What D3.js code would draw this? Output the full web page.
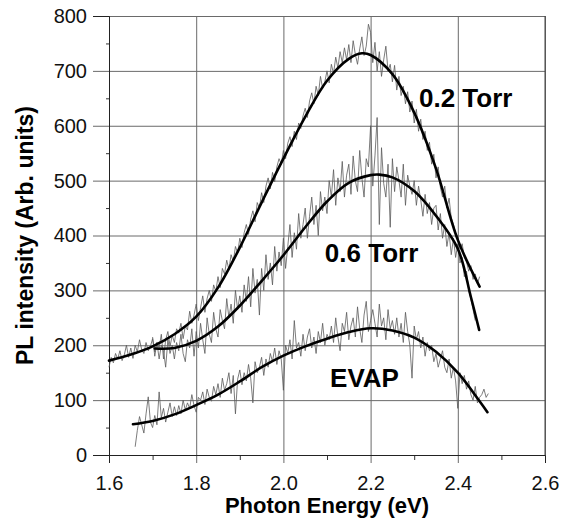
<!DOCTYPE html>
<html>
<head>
<meta charset="utf-8">
<script src="https://cdn.jsdelivr.net/npm/d3@7"></script>
<style>
  html, body { margin: 0; padding: 0; background: #fff; }
  svg { display: block; font-family: "Liberation Sans", Arial, sans-serif; }
</style>
</head>
<body>
<svg id="chart" width="566" height="521"></svg>
<script>
// ---------- DATA ----------
const xTicks = [1.6, 1.8, 2.0, 2.2, 2.4, 2.6];
const xTickLabels = ["1.6", "1.8", "2.0", "2.2", "2.4", "2.6"];
const xMinorTicks = [1.7, 1.9, 2.1, 2.3, 2.5];
const yTicks = [0, 100, 200, 300, 400, 500, 600, 700, 800];
const yMinorTicks = [50, 150, 250, 350, 450, 550, 650, 750];

const xTitle = "Photon Energy (eV)";
const yTitle = "PL intensity (Arb. units)";

// Fitted curves (energy in eV, intensity)
const fit02E = [1.60, 1.65, 1.70, 1.75, 1.80, 1.85, 1.90, 1.95, 2.00, 2.05, 2.10, 2.15, 2.18, 2.20, 2.25, 2.30, 2.35, 2.40, 2.45];
const fit02I = [172, 183, 198, 220, 252, 305, 378, 460, 540, 616, 682, 722, 732, 729, 694, 624, 522, 392, 307];

const fit06E = [1.705, 1.75, 1.80, 1.85, 1.90, 1.95, 2.00, 2.05, 2.10, 2.15, 2.20, 2.22, 2.25, 2.30, 2.35, 2.40, 2.43, 2.449];
const fit06I = [194, 195, 208, 234, 272, 317, 364, 415, 462, 496, 510, 511, 506, 481, 436, 376, 288, 228];

const fitEvapE = [1.655, 1.70, 1.75, 1.80, 1.85, 1.90, 1.95, 2.00, 2.05, 2.10, 2.15, 2.20, 2.25, 2.30, 2.35, 2.40, 2.45, 2.468];
const fitEvapI = [56, 62, 74, 91, 110, 134, 160, 181, 198, 212, 224, 231, 227, 214, 188, 150, 98, 78];

// Measured (noisy) spectra, sampled every 0.005 eV from their start energy
const sampleStep = 0.005;
const raw02Start = 1.60;
const raw02 = [
  160,178,168,185,175,190,172,182,200,178,
  195,176,200,188,210,192,185,205,190,198,
  212,188,205,195,220,175,210,225,198,218,
  205,230,222,240,212,235,228,262,240,255,
  275,245,268,290,260,285,300,280,310,298,
  325,305,340,330,355,338,365,352,380,368,
  395,378,405,420,402,430,445,425,460,450,
  478,460,490,505,485,515,498,525,540,530,
  555,540,568,580,562,590,575,605,595,618,
  632,615,645,660,640,672,655,690,668,680,
  700,678,712,695,725,705,735,715,742,720,
  748,715,755,730,712,740,762,728,745,785,
  770,715,752,700,735,690,720,745,700,712,
  680,710,665,690,655,672,640,662,625,645,
  605,630,590,612,575,590,555,570,530,548,
  505,525,488,470,490,450,468,432,420,405,
  398,375,385,360,352,335,345,320,330,312,
  325
];

const raw06Start = 1.70;
const raw06 = [
  215,180,205,175,200,190,160,210,185,200,
  175,205,190,220,185,170,210,195,230,180,
  225,195,240,210,185,250,220,205,260,230,
  215,265,245,230,285,250,275,240,300,265,
  290,260,310,280,325,270,340,295,320,255,
  340,300,365,320,350,310,380,335,370,345,
  395,340,380,420,360,405,375,440,395,420,
  450,395,435,470,420,455,400,480,445,470,
  440,500,470,520,455,505,480,535,470,510,
  530,475,545,500,480,555,505,470,540,525,
  600,490,545,615,420,560,495,470,530,415,
  540,480,525,500,470,530,455,510,490,475,
  500,455,490,465,435,475,440,460,420,450,
  455,410,440,395,420,380,405,365,395,360,
  385,350,360,325,335,300,285,265,245
];

const rawEvapStart = 1.66;
const rawEvap = [
  15,45,70,55,40,75,106,60,50,72,
  55,115,68,85,60,78,95,70,88,72,
  90,75,100,82,95,85,110,90,78,105,
  100,115,92,120,105,98,125,110,130,105,
  140,118,130,150,112,145,75,138,155,128,
  150,135,165,140,95,170,150,160,178,145,
  175,160,185,170,195,165,190,175,118,200,
  185,210,175,245,195,205,180,220,190,215,
  230,195,215,185,225,205,240,200,220,210,
  235,205,250,215,190,240,225,260,210,235,
  250,215,270,230,205,255,280,225,245,265,
  240,215,275,235,250,210,265,230,245,220,
  250,215,240,205,260,225,200,140,235,210,
  225,195,215,180,205,190,200,170,185,160,
  175,190,160,150,175,140,160,135,85,150,
  130,145,120,135,110,100,125,95,105,110,
  120,105,112
];

// Curve labels (anchored at energy / intensity of text baseline start)
const labelTexts = ["0.2 Torr", "0.6 Torr", "EVAP"];
const labelE = [2.311, 2.095, 2.107];
const labelI = [634, 352, 124];

// ---------- DRAW ----------
const svg = d3.select("#chart");
const mLeft = 109, mRight = 545, mTop = 16, mBottom = 455;

const x = d3.scaleLinear().domain([1.6, 2.6]).range([mLeft, mRight]);
const y = d3.scaleLinear().domain([0, 800]).range([mBottom, mTop]);

const gridColor = "#6a6a6a";

// Horizontal gridlines (extend left of axis like ticks)
svg.append("g")
  .attr("transform", `translate(${mRight},0)`)
  .call(d3.axisLeft(y).tickValues(yTicks).tickSize(mRight - 93).tickFormat(""))
  .call(g => g.select(".domain").remove())
  .call(g => g.selectAll("line").attr("stroke", gridColor).attr("stroke-width", 1));

// Vertical gridlines (extend below axis)
svg.append("g")
  .attr("transform", `translate(0,${mTop})`)
  .call(d3.axisBottom(x).tickValues(xTicks).tickSize(463 - mTop).tickFormat(""))
  .call(g => g.select(".domain").remove())
  .call(g => g.selectAll("line").attr("stroke", gridColor).attr("stroke-width", 1));

// Minor ticks
svg.append("g")
  .attr("transform", `translate(${mLeft},0)`)
  .call(d3.axisLeft(y).tickValues(yMinorTicks).tickSize(3).tickFormat(""))
  .call(g => g.select(".domain").remove())
  .call(g => g.selectAll("line").attr("stroke", "#333"));
svg.append("g")
  .attr("transform", `translate(0,${mBottom})`)
  .call(d3.axisBottom(x).tickValues(xMinorTicks).tickSize(5).tickFormat(""))
  .call(g => g.select(".domain").remove())
  .call(g => g.selectAll("line").attr("stroke", "#333"));

// Y axis labels
svg.append("g")
  .attr("transform", `translate(${mLeft},0)`)
  .call(d3.axisLeft(y).tickValues(yTicks).tickSize(16).tickPadding(6).tickFormat(d3.format("d")))
  .call(g => g.select(".domain").attr("stroke", "#222"))
  .call(g => g.selectAll("line").attr("stroke", "none"))
  .call(g => g.selectAll("text").attr("font-size", 20).attr("fill", "#111")
     .attr("font-family", "'Liberation Sans', Arial, sans-serif"));

// X axis labels
svg.append("g")
  .attr("transform", `translate(0,${mBottom})`)
  .call(d3.axisBottom(x).tickValues(xTicks).tickSize(8).tickPadding(13).tickFormat((d, i) => xTickLabels[i]))
  .call(g => g.select(".domain").attr("stroke", "#222"))
  .call(g => g.selectAll("line").attr("stroke", "none"))
  .call(g => g.selectAll("text").attr("font-size", 20).attr("fill", "#111")
     .attr("font-family", "'Liberation Sans', Arial, sans-serif"));

// Right frame line
svg.append("line").attr("x1", mRight).attr("x2", mRight).attr("y1", y(800)).attr("y2", y(0))
  .attr("stroke", "#444").attr("stroke-width", 1);

// Noisy data
const rawLine = d3.line().x(d => x(d[0])).y(d => y(d[1]));
function rawPts(start, vals) { return vals.map((v, i) => [start + i * sampleStep, v]); }
[[raw02Start, raw02], [raw06Start, raw06], [rawEvapStart, rawEvap]].forEach(([s, v]) => {
  svg.append("path")
    .attr("d", rawLine(rawPts(s, v)))
    .attr("fill", "none")
    .attr("stroke", "#5a5a5a")
    .attr("stroke-width", 0.8)
    .attr("stroke-linejoin", "round");
});

// Fitted curves
const fitLine = d3.line().x(d => x(d[0])).y(d => y(d[1])).curve(d3.curveCatmullRom.alpha(0.5));
[[fit02E, fit02I], [fit06E, fit06I], [fitEvapE, fitEvapI]].forEach(([E, I]) => {
  svg.append("path")
    .attr("d", fitLine(E.map((e, i) => [e, I[i]])))
    .attr("fill", "none")
    .attr("stroke", "#000")
    .attr("stroke-width", 2.6)
    .attr("stroke-linecap", "round");
});

// Curve labels
labelTexts.forEach((t, i) => {
  svg.append("text")
    .attr("x", x(labelE[i]))
    .attr("y", y(labelI[i]))
    .attr("font-size", 26)
    .attr("font-weight", "bold")
    .attr("fill", "#000")
    .text(t);
});

// Axis titles
svg.append("text")
  .attr("x", (mLeft + mRight) / 2)
  .attr("y", 513)
  .attr("text-anchor", "middle")
  .attr("font-size", 22)
  .attr("font-weight", "bold")
  .attr("fill", "#000")
  .text(xTitle);

svg.append("text")
  .attr("transform", `translate(33,${(mTop + mBottom) / 2}) rotate(-90)`)
  .attr("text-anchor", "middle")
  .attr("font-size", 23)
  .attr("font-weight", "bold")
  .attr("fill", "#000")
  .text(yTitle);
</script>
</body>
</html>
